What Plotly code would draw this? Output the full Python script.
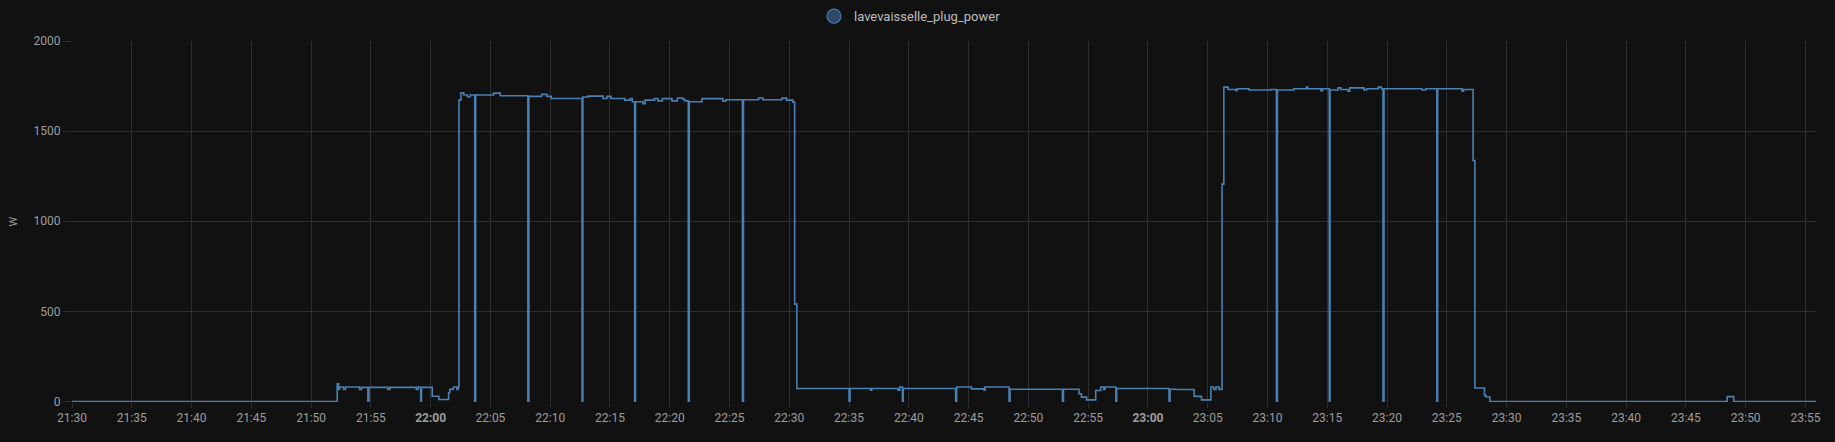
# dishwasher plug power, grafana-like dark chart

import plotly.graph_objects as go
import pandas as pd

day = "2024-03-10"

# step samples (time, W)
times = [
    "21:30:00", "21:52:11", "21:52:18", "21:52:23", "21:52:43", "21:52:53",
    "21:54:03", "21:54:13", "21:54:45", "21:54:50", "21:56:25", "21:56:35",
    "21:58:48", "21:58:57", "21:59:10", "21:59:14", "22:00:08", "22:00:41",
    "22:01:30", "22:01:36", "22:01:54", "22:02:12", "22:02:18", "22:02:22",
    "22:02:32", "22:02:46", "22:03:05", "22:03:19", "22:03:41", "22:03:46",
    "22:05:16", "22:05:49", "22:08:08", "22:08:13", "22:09:17", "22:09:44",
    "22:10:05", "22:12:40", "22:12:44", "22:13:10", "22:14:25", "22:14:45",
    "22:15:05", "22:16:14", "22:16:42", "22:16:52", "22:17:04", "22:17:08",
    "22:17:46", "22:17:56", "22:18:44", "22:19:01", "22:19:23", "22:20:11",
    "22:20:38", "22:21:06", "22:21:15", "22:21:33", "22:21:38", "22:22:42",
    "22:24:27", "22:24:41", "22:26:05", "22:26:10", "22:27:26", "22:27:48",
    "22:29:23", "22:29:46", "22:30:18", "22:30:27", "22:30:38", "22:35:00",
    "22:35:05", "22:36:48", "22:36:54", "22:39:06", "22:39:15", "22:39:28",
    "22:39:32", "22:43:55", "22:44:00", "22:45:14", "22:46:17", "22:46:22",
    "22:48:23", "22:48:28", "22:52:51", "22:52:56", "22:54:14", "22:54:26",
    "22:54:52", "22:55:38", "22:56:03", "22:56:18", "22:56:25", "22:57:19",
    "22:57:23", "23:01:46", "23:01:51", "23:02:23", "23:03:52", "23:04:29",
    "23:05:16", "23:05:30", "23:05:42", "23:05:57", "23:06:12", "23:06:21",
    "23:06:43", "23:07:21", "23:07:27", "23:08:28", "23:10:17", "23:10:45",
    "23:10:50", "23:12:12", "23:13:16", "23:13:22", "23:14:28", "23:14:36",
    "23:15:10", "23:15:14", "23:15:54", "23:16:08", "23:16:44", "23:16:53",
    "23:18:04", "23:18:17", "23:19:16", "23:19:32", "23:19:40", "23:19:45",
    "23:22:56", "23:23:14", "23:24:10", "23:24:14", "23:26:17", "23:26:24",
    "23:27:12", "23:27:21", "23:28:09", "23:28:17", "23:28:36", "23:48:27",
    "23:49:00", "23:55:54",
]
watts = [
    0, 98, 67, 80, 67, 80,
    67, 78, 0, 78, 67, 78,
    67, 80, 0, 78, 29, 11,
    48, 67, 80, 67, 80, 1672,
    1713, 1700, 1691, 1700, 0, 1700,
    1711, 1696, 0, 1693, 1704, 1693,
    1681, 0, 1689, 1694, 1681, 1693,
    1681, 1672, 1681, 1663, 0, 1663,
    1652, 1672, 1681, 1668, 1680, 1668,
    1684, 1677, 1668, 0, 1663, 1680,
    1666, 1674, 0, 1674, 1684, 1674,
    1683, 1672, 1661, 540, 72, 0,
    72, 63, 72, 63, 80, 0,
    72, 0, 80, 70, 63, 80,
    0, 68, 0, 68, 43, 24,
    9, 61, 80, 67, 80, 0,
    72, 0, 68, 66, 28, 9,
    80, 67, 80, 67, 1206, 1744,
    1731, 1724, 1735, 1728, 1731, 0,
    1728, 1735, 1744, 1735, 1724, 1735,
    0, 1728, 1740, 1731, 1722, 1740,
    1728, 1735, 1744, 1735, 0, 1735,
    1728, 1735, 0, 1735, 1722, 1731,
    1336, 75, 34, 25, 0, 27,
    0, 0,
]

tick_labels = ["21:30", "21:35", "21:40", "21:45", "21:50", "21:55",
               "22:00", "22:05", "22:10", "22:15", "22:20", "22:25",
               "22:30", "22:35", "22:40", "22:45", "22:50", "22:55",
               "23:00", "23:05", "23:10", "23:15", "23:20", "23:25",
               "23:30", "23:35", "23:40", "23:45", "23:50", "23:55"]
y_ticks = [0, 500, 1000, 1500, 2000]

df = pd.DataFrame({"time": pd.to_datetime(day + " " + pd.Series(times)),
                   "W": watts})

tick_vals = pd.to_datetime(day + " " + pd.Series(tick_labels))
tick_text = ["<b>%s</b>" % t if t.endswith(":00") else t for t in tick_labels]

line_col = "#4b80b3"
grid_col = "#2e2e2e"
text_col = "#9d9d9d"
bg_col = "#111111"

fig = go.Figure()
fig.add_trace(go.Scatter(x=df["time"], y=df["W"], mode="lines",
                         line=dict(color=line_col, width=1.6, shape="hv"),
                         showlegend=False, hoverinfo="x+y"))
# legend entry only (grafana shows a round swatch)
fig.add_trace(go.Scatter(x=[None], y=[None], mode="markers",
                         name="lavevaisselle_plug_power",
                         marker=dict(size=14, color="#2c4866",
                                     line=dict(color="#4a78a6", width=1.2))))

fig.update_layout(
    width=1835, height=442,
    paper_bgcolor=bg_col, plot_bgcolor=bg_col,
    margin=dict(l=72, r=19, t=41, b=40, autoexpand=False),
    font=dict(family="Roboto, Inter, sans-serif", size=12, color=text_col),
    showlegend=True,
    legend=dict(orientation="h", x=0.4805, xanchor="center",
                y=1.069, yanchor="middle", bgcolor="rgba(0,0,0,0)",
                font=dict(size=13, color="#bdbdbd"), itemwidth=30),
)

fig.update_xaxes(type="date",
                 range=[day + " 21:30:00", day + " 23:55:53"],
                 tickvals=tick_vals, ticktext=tick_text, tickangle=0,
                 showgrid=True, gridcolor=grid_col, gridwidth=1,
                 ticks="outside", ticklen=5, tickcolor=grid_col,
                 showline=False, zeroline=False)
fig.update_yaxes(range=[-3, 2000], tickvals=y_ticks,
                 showgrid=True, gridcolor=grid_col, gridwidth=1,
                 ticks="outside", ticklen=8, tickcolor=grid_col,
                 zeroline=False, showline=False,
                 title=dict(text="W", font=dict(size=11, color=text_col),
                            standoff=13))

# drop the default white page margin round the figure, no modebar
fig.write_html("out.html",
               config={"displayModeBar": False},
               post_script="document.body.style.margin='0px';"
                           "document.body.style.background='%s';" % bg_col)
